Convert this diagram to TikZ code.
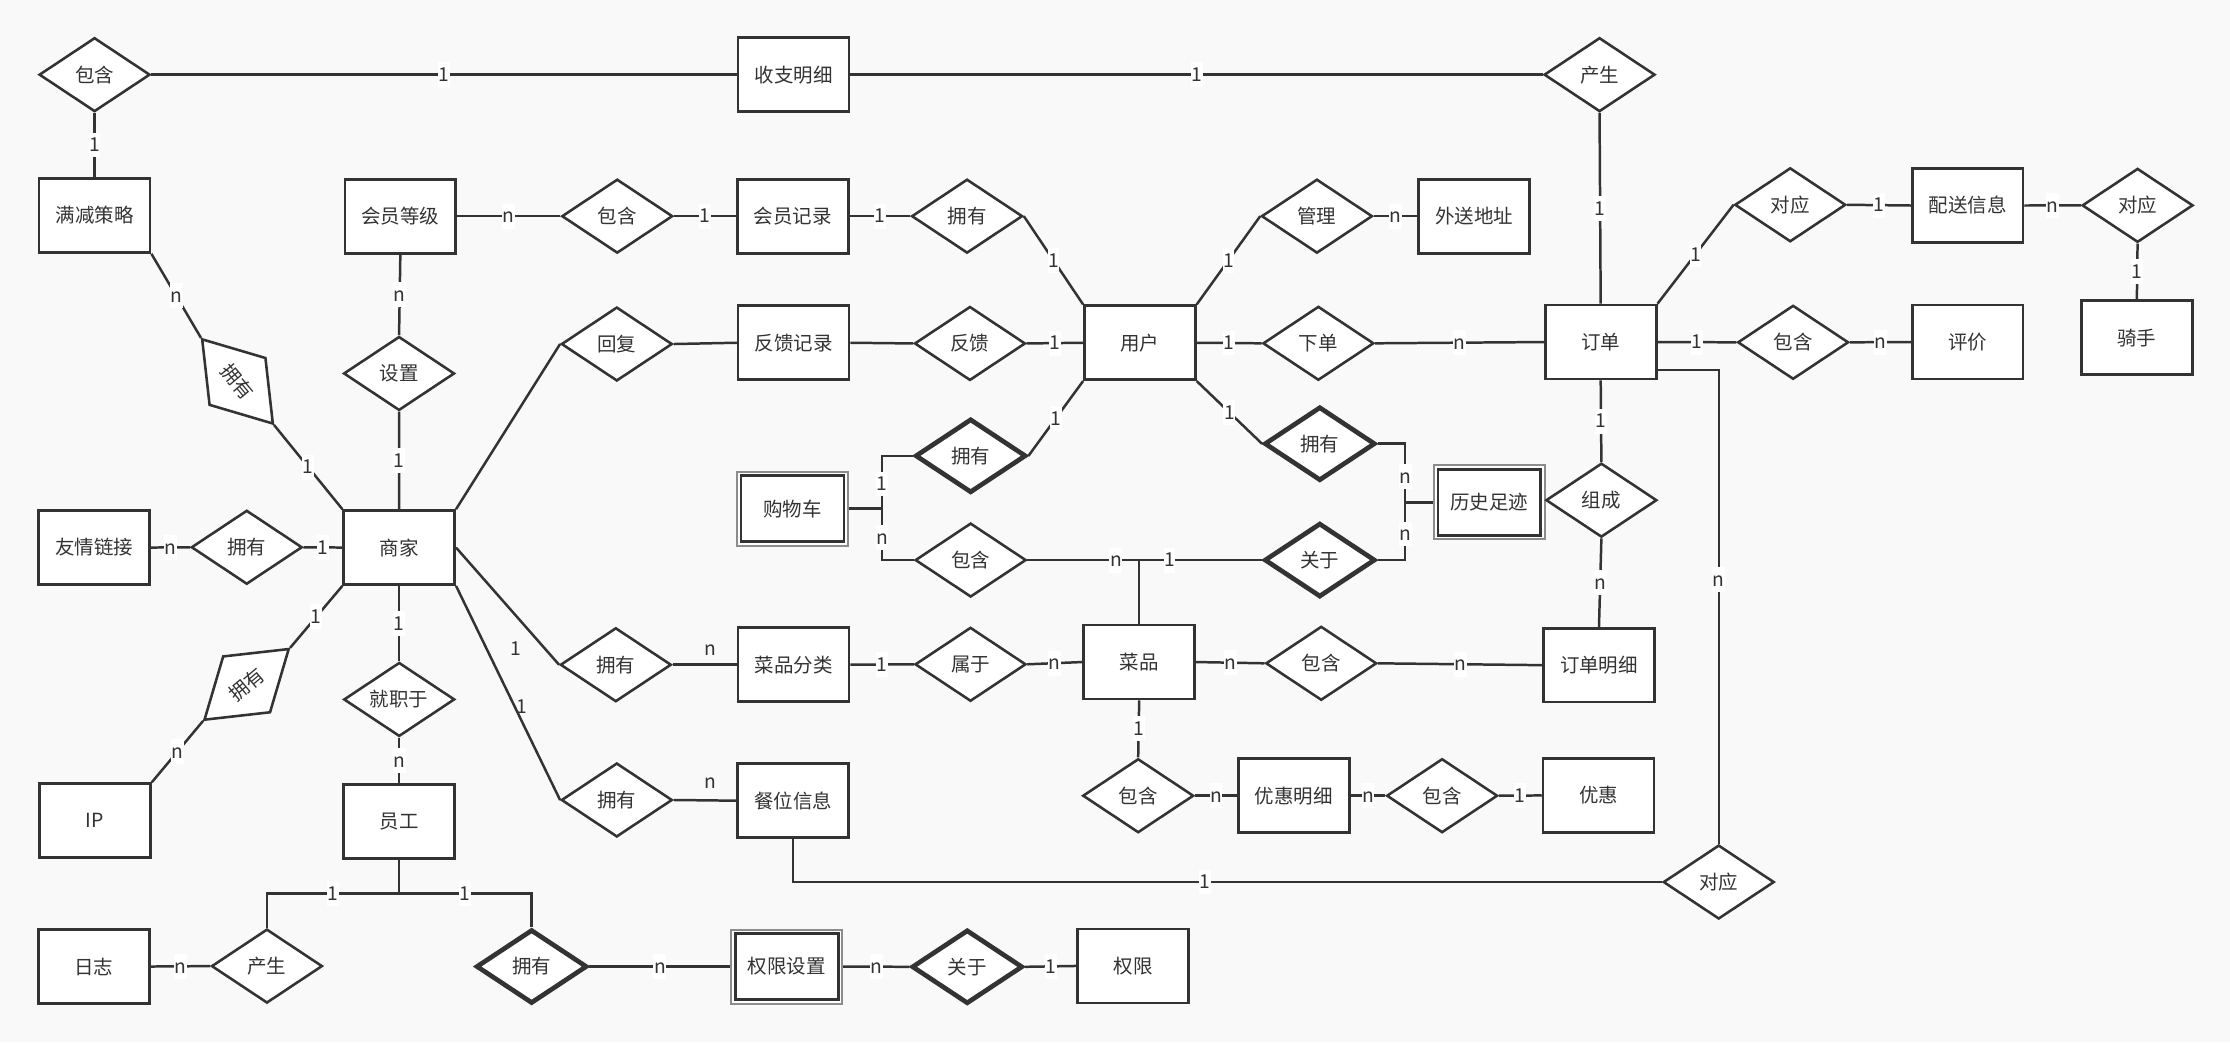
\documentclass[tikz,border=0pt]{standalone}
\usepackage{fontspec}
\setmainfont{Noto Sans CJK SC}
\usetikzlibrary{shapes.geometric,calc}
\definecolor{ln}{HTML}{333333}
\definecolor{bgc}{HTML}{F9F9F9}
\definecolor{wk}{HTML}{8C8C8C}
\begin{document}
\begin{tikzpicture}[x=1pt,y=-1pt,
  ent/.style={draw=ln, fill=white, text=ln, line width=1.9pt, minimum width=78pt, minimum height=52pt, inner sep=0pt, font=\fontsize{13.7}{16}\selectfont},
  weakent/.style={ent, draw=wk, line width=1.4pt},
  rel/.style={diamond, aspect=1.5, draw=ln, fill=white, text=ln, line width=1.8pt, minimum width=78pt, minimum height=52pt, inner sep=0pt, font=\fontsize{13.7}{16}\selectfont},
  brel/.style={rel, line width=3.3pt},
  con/.style={draw=ln, line width=1.75pt},
  lab/.style={fill=white, text=ln, inner xsep=0.4pt, inner ysep=1pt, text height=12.5pt, text depth=3pt, font=\fontsize{13.5}{15}\selectfont},
  flab/.style={lab, fill=none}
]
\fill[bgc] (0,0) rectangle (1568,733);
\useasboundingbox (0,0) rectangle (1568,733);

% ---------- entities ----------
\node[ent] (szmx) at (558,52.5) {收支明细};
\node[ent] (mjcl) at (66.5,151.5) {满减策略};
\node[ent] (hydj) at (281.5,152) {会员等级};
\node[ent] (hyjl) at (557.5,152) {会员记录};
\node[ent] (wsdz) at (1036.5,152) {外送地址};
\node[ent] (psxx) at (1383.5,144.5) {配送信息};
\node[ent] (fkjl) at (558,241) {反馈记录};
\node[ent] (yh) at (801.5,241) {用户};
\node[ent] (dd) at (1125.5,240.5) {订单};
\node[ent] (pj) at (1383.5,240.5) {评价};
\node[ent] (qs) at (1502.5,237.5) {骑手};
\node[weakent] (gwc) at (557.2,357.7) {购物车};
\node[weakent] (lszj) at (1047.2,353.2) {历史足迹};
\node[ent] (yqlj) at (66.3,385) {友情链接};
\node[ent] (sj) at (280.7,385) {商家};
\node[ent] (cpfl) at (558,467.4) {菜品分类};
\node[ent] (cp) at (801,465.5) {菜品};
\node[ent] (ddmx) at (1124.3,467.7) {订单明细};
\node[ent] (ip) at (66.8,577) {IP};
\node[ent] (yg) at (280.7,577.5) {员工};
\node[ent] (cwxx) at (557.6,563) {餐位信息};
\node[ent] (yhmx) at (909.7,559.5) {优惠明细};
\node[ent] (yhui) at (1124,559.3) {优惠};
\node[ent] (rz) at (66,679.6) {日志};
\node[weakent] (qxsz) at (553.2,679.6) {权限设置};
\node[ent] (qx) at (796.7,679.2) {权限};
\foreach \n in {gwc,lszj,qxsz}
  \draw[draw=ln, line width=1.9pt] ([shift={(3.5,3.5)}]\n.north west) rectangle ([shift={(-3.5,-3.5)}]\n.south east);

% ---------- relationships ----------
\node[rel] (rbh1) at (66.5,52.5) {包含};
\node[rel] (rcs1) at (1124.7,52.5) {产生};
\node[rel] (rbh2) at (434,152) {包含};
\node[rel] (ryy1) at (680,152) {拥有};
\node[rel] (rgl) at (926,152) {管理};
\node[rel] (rdy1) at (1258.8,144) {对应};
\node[rel] (rdy2) at (1503,144.4) {对应};
\node[rel] (rsz) at (280.6,262.6) {设置};
\node[rel] (rhf) at (433.7,241.9) {回复};
\node[rel] (rfk) at (682,241.5) {反馈};
\node[rel] (rxd) at (927,241.4) {下单};
\node[rel] (rbh3) at (1260.8,240.7) {包含};
\node[brel] (ryyb1) at (682.5,320.5) {拥有};
\node[brel] (ryyb2) at (928,312) {拥有};
\node[rel] (rzc) at (1126,351.7) {组成};
\node[rel] (rbh4) at (682.5,393.8) {包含};
\node[brel] (rgyb) at (928,393.8) {关于};
\node[rel] (ryy2) at (173.5,384.8) {拥有};
\node[rel, rotate=-50] (rrot1) at (167,268.2) {拥有};
\node[rel, rotate=40] (rrot2) at (173.4,481.2) {拥有};
\node[rel] (rjzy) at (280.7,491.8) {就职于};
\node[rel] (ryy3) at (433,467.4) {拥有};
\node[rel] (rsy) at (682.4,467.1) {属于};
\node[rel] (rbh5) at (929,466.4) {包含};
\node[rel] (ryy4) at (433.7,562.5) {拥有};
\node[rel] (rbh6) at (800.3,559.5) {包含};
\node[rel] (rbh7) at (1014,559.5) {包含};
\node[rel] (rdy3) at (1208.5,620.2) {对应};
\node[rel] (rcs2) at (187.7,679.3) {产生};
\node[brel] (ryyb3) at (373.8,679.6) {拥有};
\node[brel] (rgyb2) at (680.1,679.8) {关于};

% ---------- junction points ----------
\coordinate (gj) at (620.2,357.7);
\coordinate (hj) at (988,353.2);
\coordinate (cj) at (801,393.8);
\coordinate (ygj) at (280.7,628.3);

% ---------- connectors ----------
\draw[con] (rbh1.east) -- node[lab]{1} (szmx.west);
\draw[con] (rbh1.south) -- node[lab]{1} (mjcl.north);
\draw[con] (szmx.east) -- node[lab]{1} (rcs1.west);
\draw[con] (rcs1.south) -- node[lab]{1} (dd.north);
\draw[con] (mjcl.south east) -- node[lab]{n} (rrot1.west);
\draw[con] (rrot1.east) -- node[lab]{1} (sj.north west);
\draw[con] (hydj.east) -- node[lab]{n} (rbh2.west);
\draw[con] (rbh2.east) -- node[lab]{1} (hyjl.west);
\draw[con] (hydj.south) -- node[lab]{n} (rsz.north);
\draw[con] (rsz.south) -- node[lab]{1} (sj.north);
\draw[con] (hyjl.east) -- node[lab]{1} (ryy1.west);
\draw[con] (ryy1.east) -- node[lab]{1} (yh.north west);
\draw[con] (yh.north east) -- node[lab]{1} (rgl.west);
\draw[con] (rgl.east) -- node[lab]{n} (wsdz.west);
\draw[con] (rhf.east) -- (fkjl.west);
\draw[con] (fkjl.east) -- (rfk.west);
\draw[con] (rfk.east) -- node[lab]{1} (yh.west);
\draw[con] (yh.east) -- node[lab]{1} (rxd.west);
\draw[con] (rxd.east) -- node[lab]{n} (dd.west);
\draw[con] (sj.north east) -- (rhf.west);
\draw[con] (dd.north east) -- node[lab]{1} (rdy1.west);
\draw[con] (rdy1.east) -- node[lab]{1} (psxx.west);
\draw[con] (psxx.east) -- node[lab]{n} (rdy2.west);
\draw[con] (rdy2.south) -- node[lab]{1} (qs.north);
\draw[con] (dd.east) -- node[lab]{1} (rbh3.west);
\draw[con] (rbh3.east) -- node[lab]{n} (pj.west);
\draw[con] (dd.south) -- node[lab]{1} (rzc.north);
\draw[con] (rzc.south) -- node[lab]{n} (ddmx.north);
\draw[con] (yh.south west) -- node[lab]{1} (ryyb1.east);
\draw[con] (yh.south east) -- node[lab]{1} (ryyb2.west);
\draw[con] (sj.east) -- (ryy3.west);
\draw[con] (ryy3.east) -- (cpfl.west);
\draw[con] (sj.south east) -- (ryy4.west);
\draw[con] (ryy4.east) -- (cwxx.west);
\node[flab] (l1) at (362.6,456.5) {1};
\node[flab] (l2) at (499.2,456) {n};
\node[flab] (l3) at (366.8,496.9) {1};
\node[flab] (l4) at (499.2,550) {n};
\draw[con] (cpfl.east) -- node[lab]{1} (rsy.west);
\draw[con] (rsy.east) -- node[lab]{n} (cp.west);
\draw[con] (cp.east) -- node[lab]{n} (rbh5.west);
\draw[con] (rbh5.east) -- node[lab]{n} (ddmx.west);
\draw[con] (cp.south) -- node[lab]{1} (rbh6.north);
\draw[con] (rbh6.east) -- node[lab]{n} (yhmx.west);
\draw[con] (yhmx.east) -- node[lab]{n} (rbh7.west);
\draw[con] (rbh7.east) -- node[lab]{1} (yhui.west);
\draw[con] (yqlj.east) -- node[lab]{n} (ryy2.west);
\draw[con] (ryy2.east) -- node[lab]{1} (sj.west);
\draw[con] (sj.south west) -- node[lab]{1} (rrot2.east);
\draw[con] (rrot2.west) -- node[lab]{n} (ip.north east);
\draw[con] (sj.south) -- node[lab]{1} (rjzy.north);
\draw[con] (rjzy.south) -- node[lab]{n} (yg.north);
\draw[con] (rcs2.west) -- node[lab]{n} (rz.east);
\draw[con] (ryyb3.east) -- node[lab]{n} (qxsz.west);
\draw[con] (qxsz.east) -- node[lab]{n} (rgyb2.west);
\draw[con] (rgyb2.east) -- node[lab]{1} (qx.west);

% orthogonal connectors
\draw[con] (gwc.east) -- (gj) |- (ryyb1.west);
\draw[con] (gj) |- (rbh4.west);
\node[lab] at (620.2,340.3) {1};
\node[lab] at (620.2,377.8) {n};

\draw[con] (lszj.west) -- (hj) |- (ryyb2.east);
\draw[con] (hj) |- (rgyb.east);
\node[lab] at (988,335.2) {n};
\node[lab] at (988,375.5) {n};

\draw[con] (rbh4.east) -- (cj) -- (cp.north);
\draw[con] (rgyb.west) -- (cj);
\node[lab] at (784.6,393.8) {n};
\node[lab] at (822.3,393.8) {1};

\draw[con] (yg.south) -- (ygj) -| (rcs2.north);
\draw[con] (ygj) -| (ryyb3.north);
\node[lab] at (234,628.3) {1};
\node[lab] at (327,628.3) {1};

\draw[con] ([yshift=-19.7pt]dd.east) -| (rdy3.north);
\node[lab] at (1208.5,407.5) {n};
\draw[con] (cwxx.south) |- (rdy3.west);
\node[lab] at (847.5,620.2) {1};
\end{tikzpicture}
\end{document}
